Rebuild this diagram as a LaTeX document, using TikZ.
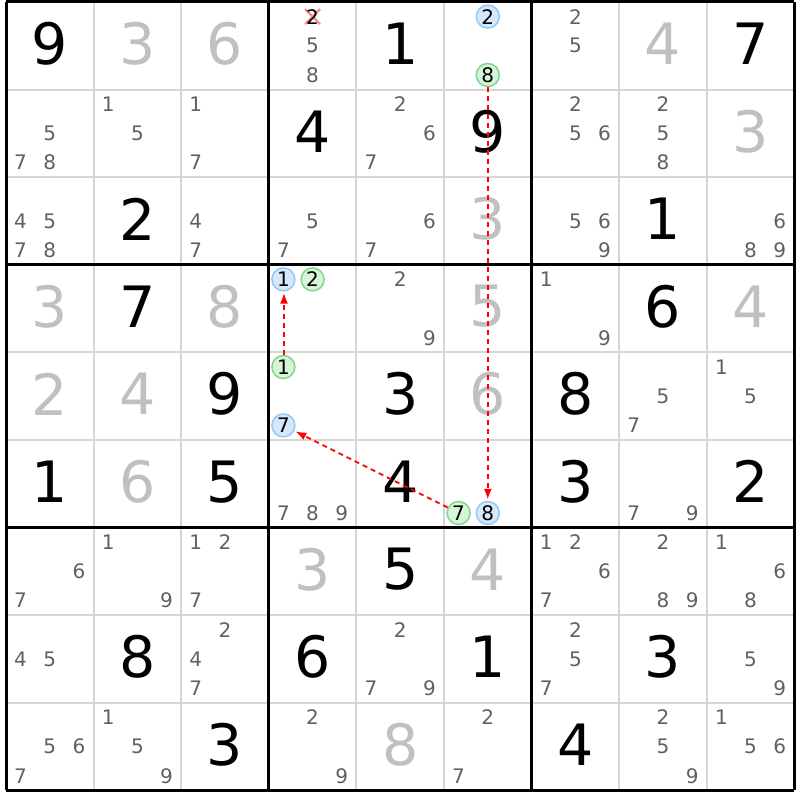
\documentclass[tikz,border=0pt]{standalone}
\usepackage{fontspec}
\setmainfont{DejaVu Sans}
\usepackage{tikz}
\usetikzlibrary{arrows.meta}

\definecolor{solvedgray}{RGB}{192,192,192}
\definecolor{candgray}{RGB}{96,96,100}
\definecolor{thingray}{RGB}{214,214,214}
\definecolor{blueline}{RGB}{150,200,245}
\definecolor{bluefill}{RGB}{213,232,250}
\definecolor{greenline}{RGB}{128,214,140}
\definecolor{greenfill}{RGB}{214,245,214}
\definecolor{crosspink}{RGB}{245,140,150}

\tikzset{
	thinline/.style={thingray, line width=2pt},
	boxline/.style={black, line width=3pt},
	given/.style={font=\fontsize{57}{57}\selectfont, inner sep=0pt, yshift=2pt},
	solved/.style={given, text=solvedgray},
	cand/.style={font=\fontsize{20}{20}\selectfont, text=candgray, inner sep=0pt},
	bluecand/.style={cand, text=black, circle, draw=blueline, fill=bluefill, line width=1.5pt, minimum size=23pt},
	greencand/.style={cand, text=black, circle, draw=greenline, fill=greenfill, line width=1.5pt, minimum size=23pt},
	chain/.style={red, line width=1.8pt, dash pattern=on 5pt off 4pt, shorten >=1pt, -{Latex[length=11pt,width=8pt]}},
	crossmark/.style={crosspink, line width=2.4pt}
}

\begin{document}
\begin{tikzpicture}[x=87.6pt, y=-87.6pt]
		\useasboundingbox (-0.0685,-0.0228) rectangle (9.0639,9.1096);
		
		% Grid lines
		\foreach \i in {1,2,4,5,7,8} {
			\draw[thinline] (\i,0) -- (\i,9);
			\draw[thinline] (0,\i) -- (9,\i);
		}
		\foreach \i in {0,3,6,9} {
			\draw[boxline] (\i,0) -- (\i,9);
			\draw[boxline] (0,\i) -- (9,\i);
		}
		
		% Givens
		\foreach \r/\c/\d in {1/1/9, 1/5/1, 1/9/7, 2/4/4, 2/6/9, 3/2/2, 3/8/1, 4/2/7, 4/8/6,
			5/3/9, 5/5/3, 5/7/8, 6/1/1, 6/3/5, 6/5/4, 6/7/3, 6/9/2, 7/5/5,
			8/2/8, 8/4/6, 8/6/1, 8/8/3, 9/3/3, 9/7/4}
			\node[given] (g\r\c) at (\c-0.5,\r-0.5) {\d};
		
		% Solved cells
		\foreach \r/\c/\d in {1/2/3, 1/3/6, 1/8/4, 2/9/3, 3/6/3, 4/1/3, 4/3/8, 4/6/5, 4/9/4,
			5/1/2, 5/2/4, 5/6/6, 6/2/6, 7/4/3, 7/6/4, 9/5/8}
			\node[solved] (s\r\c) at (\c-0.5,\r-0.5) {\d};
		
		% Candidates
		\foreach \r/\c/\cands in {1/4/{5,8}, 1/7/{2,5},
			2/1/{5,7,8}, 2/2/{1,5}, 2/3/{1,7}, 2/5/{2,6,7}, 2/7/{2,5,6}, 2/8/{2,5,8},
			3/1/{4,5,7,8}, 3/3/{4,7}, 3/4/{5,7}, 3/5/{6,7}, 3/7/{5,6,9}, 3/9/{6,8,9},
			4/5/{2,9}, 4/7/{1,9}, 5/8/{5,7}, 5/9/{1,5}, 6/4/{7,8,9}, 6/8/{7,9},
			7/1/{6,7}, 7/2/{1,9}, 7/3/{1,2,7}, 7/7/{1,2,6,7}, 7/8/{2,8,9}, 7/9/{1,6,8},
			8/1/{4,5}, 8/3/{2,4,7}, 8/5/{2,7,9}, 8/7/{2,5,7}, 8/9/{5,9},
			9/1/{5,6,7}, 9/2/{1,5,9}, 9/4/{2,9}, 9/6/{2,7}, 9/8/{2,5,9}, 9/9/{1,5,6}} {
			\foreach \d in \cands {
				\pgfmathsetmacro\cx{\c-1+(mod(\d-1,3)+0.5)/3}
				\pgfmathsetmacro\cy{\r-1+(int((\d-1)/3)+0.5)/3}
				\node[cand] (c\r\c\d) at (\cx,\cy) {\d};
			}
		}
		
		% Eliminated candidate
		\coordinate (x142) at (3.5,0.1667);
		\draw[crossmark] ([shift={(-7.5pt,7.5pt)}]x142) -- ([shift={(7.5pt,-7.5pt)}]x142);
		\draw[crossmark] ([shift={(-7.5pt,-7.5pt)}]x142) -- ([shift={(7.5pt,7.5pt)}]x142);
		\node[cand, text=black] (c142) at (x142) {2};
		
		% Chain candidates
		\foreach \r/\c/\d/\sty in {1/6/2/bluecand, 1/6/8/greencand, 4/4/1/bluecand, 4/4/2/greencand,
			5/4/1/greencand, 5/4/7/bluecand, 6/6/7/greencand, 6/6/8/bluecand} {
			\pgfmathsetmacro\cx{\c-1+(mod(\d-1,3)+0.5)/3}
			\pgfmathsetmacro\cy{\r-1+(int((\d-1)/3)+0.5)/3}
			\node[\sty] (c\r\c\d) at (\cx,\cy) {\d};
		}
		
		% Chain links
		\draw[chain] (c168) -- (c668);
		\draw[chain] (c667) -- (c547);
		\draw[chain] ([xshift=0.6pt]c541.north) -- ([xshift=0.6pt]c441.south);
	\end{tikzpicture}
\end{document}
